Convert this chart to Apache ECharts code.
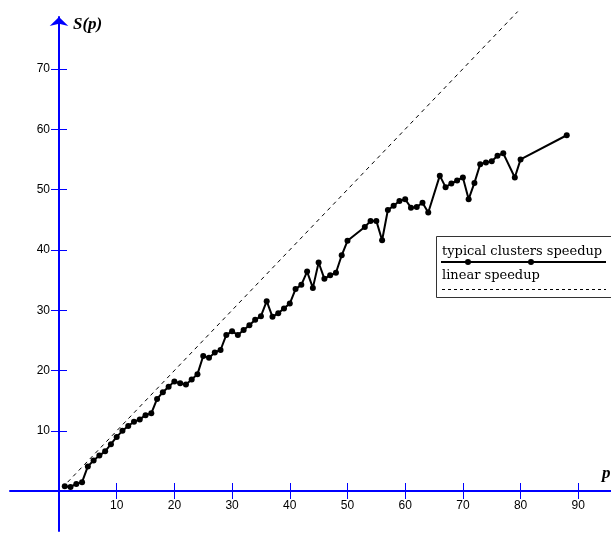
<!DOCTYPE html>
<html>
<head>
<meta charset="utf-8">
<title>S(p)</title>
<script src="https://cdn.jsdelivr.net/npm/echarts@6.0.0/dist/echarts.min.js"></script>
<style>
	html, body { margin: 0; padding: 0; background: #fff; }
	#main { width: 611px; height: 536px; }
</style>
</head>
<body>
<div id="main"></div>
<script>
// 处理器数 p
var pValues = [1, 2, 3, 4, 5, 6, 7, 8, 9, 10, 11, 12, 13, 14, 15, 16, 17, 18, 19, 20,
	21, 22, 23, 24, 25, 26, 27, 28, 29, 30, 31, 32, 33, 34, 35, 36, 37, 38, 39, 40,
	41, 42, 43, 44, 45, 46, 47, 48, 49, 50, 53, 54, 55, 56, 57, 58, 59, 60, 61, 62,
	63, 64, 66, 67, 68, 69, 70, 71, 72, 73, 74, 75, 76, 77, 79, 80, 88];
// 集群加速比 S(p)
var speedupValues = [0.8, 0.7, 1.2, 1.5, 4.1, 5.1, 5.9, 6.6, 7.8, 9.0, 10.0, 10.8, 11.5, 11.9, 12.6, 12.9, 15.3, 16.4, 17.3, 18.2,
	17.9, 17.7, 18.5, 19.4, 22.4, 22.1, 23.0, 23.4, 25.9, 26.5, 25.9, 26.7, 27.5, 28.4, 29.0, 31.5, 28.9, 29.5, 30.3, 31.1,
	33.5, 34.2, 36.4, 33.7, 37.9, 35.2, 35.8, 36.2, 39.1, 41.5, 43.8, 44.8, 44.8, 41.6, 46.6, 47.3, 48.1, 48.4, 47.0, 47.1,
	47.8, 46.2, 52.3, 50.4, 51.0, 51.5, 52.0, 48.4, 51.1, 54.2, 54.5, 54.7, 55.6, 56.0, 52.0, 55.0, 59.0];
// 线性加速比端点
var linearP = [1.5, 79.5];
var linearS = [1.5, 79.5];
// 刻度
var xTicks = [10, 20, 30, 40, 50, 60, 70, 80, 90];
var yTicks = [10, 20, 30, 40, 50, 60, 70];

var clusterData = [];
for (var i = 0; i < pValues.length; i++) {
	clusterData.push([pValues[i], speedupValues[i]]);
}
var linearData = [];
for (var j = 0; j < linearP.length; j++) {
	linearData.push([linearP[j], linearS[j]]);
}

var axisBlue = '#0000ff';
var labelFont = 'Arial, "Liberation Sans"';
var myChart = echarts.init(document.getElementById('main'));

// 坐标轴穿过 0 点：用 offset 把轴线从网格边缘挪到 0 处
function xAxisOf(inside) {
	return {
		type: 'value',
		position: 'bottom',
		min: -8.49,
		max: 95.67,
		offset: -40,
		axisLine: {
			show: !inside,
			onZero: false,
			lineStyle: { color: axisBlue, width: 2 }
		},
		axisTick: {
			show: true,
			inside: inside,
			length: 8,
			customValues: xTicks,
			lineStyle: { color: axisBlue, width: 1 }
		},
		axisLabel: {
			show: !inside,
			customValues: xTicks,
			margin: 9,
			color: '#000',
			fontSize: 12,
			fontFamily: labelFont
		},
		splitLine: { show: false }
	};
}

function yAxisOf(inside) {
	return {
		type: 'value',
		position: 'left',
		min: -6.6,
		max: 78.6,
		offset: -49,
		axisLine: {
			show: !inside,
			onZero: false,
			symbol: ['none', 'arrow'],
			symbolSize: [14, 9],
			lineStyle: { color: axisBlue, width: 2 }
		},
		axisTick: {
			show: true,
			inside: inside,
			length: 8,
			customValues: yTicks,
			lineStyle: { color: axisBlue, width: 1 }
		},
		axisLabel: {
			show: !inside,
			customValues: yTicks,
			margin: 9,
			color: '#000',
			fontSize: 12,
			fontFamily: labelFont
		},
		splitLine: { show: false }
	};
}

var legendFont = '13px "DejaVu Serif", serif';

var option = {
	backgroundColor: '#fff',
	animation: false,
	grid: { left: 10, right: 0, top: 17, bottom: 5, containLabel: false, outerBoundsMode: 'none' },
	xAxis: [xAxisOf(false), xAxisOf(true)],
	yAxis: [yAxisOf(false), yAxisOf(true)],
	series: [{
		name: 'linear speedup',
		type: 'line',
		xAxisIndex: 0,
		yAxisIndex: 0,
		data: linearData,
		showSymbol: false,
		clip: false,
		lineStyle: { color: '#000', width: 1, type: [4, 4] },
		z: 1
	}, {
		name: 'typical clusters speedup',
		type: 'line',
		xAxisIndex: 0,
		yAxisIndex: 0,
		data: clusterData,
		symbol: 'circle',
		symbolSize: 6,
		itemStyle: { color: '#000' },
		lineStyle: { color: '#000', width: 2 },
		z: 3
	}],
	graphic: [
		// 坐标轴名称
		{ type: 'text', left: 73, top: 16, style: { text: 'S(p)', font: 'italic bold 17px "Liberation Serif", "Times New Roman", serif', fill: '#000' } },
		{ type: 'text', left: 602, top: 465, style: { text: 'p', font: 'italic bold 17px "Liberation Serif", "Times New Roman", serif', fill: '#000' } },
		// 图例
		{ type: 'rect', shape: { x: 436.5, y: 236.5, width: 180, height: 61 }, style: { fill: '#fff', stroke: '#333', lineWidth: 1 }, z: 10 },
		{ type: 'text', left: 442, top: 245, style: { text: 'typical clusters speedup', font: legendFont, fill: '#000' }, z: 11 },
		{ type: 'line', shape: { x1: 441, y1: 262, x2: 606, y2: 262 }, style: { stroke: '#000', lineWidth: 2 }, z: 11 },
		{ type: 'circle', shape: { cx: 468, cy: 262, r: 3 }, style: { fill: '#000' }, z: 11 },
		{ type: 'circle', shape: { cx: 531, cy: 262, r: 3 }, style: { fill: '#000' }, z: 11 },
		{ type: 'text', left: 442, top: 269, style: { text: 'linear speedup', font: legendFont, fill: '#000' }, z: 11 },
		{ type: 'line', shape: { x1: 442, y1: 289.5, x2: 606, y2: 289.5 }, style: { stroke: '#000', lineWidth: 1, lineDash: [3, 3] }, z: 11 }
	]
};

myChart.setOption(option);
window.addEventListener('resize', function() {
	myChart.resize();
});
</script>
</body>
</html>
